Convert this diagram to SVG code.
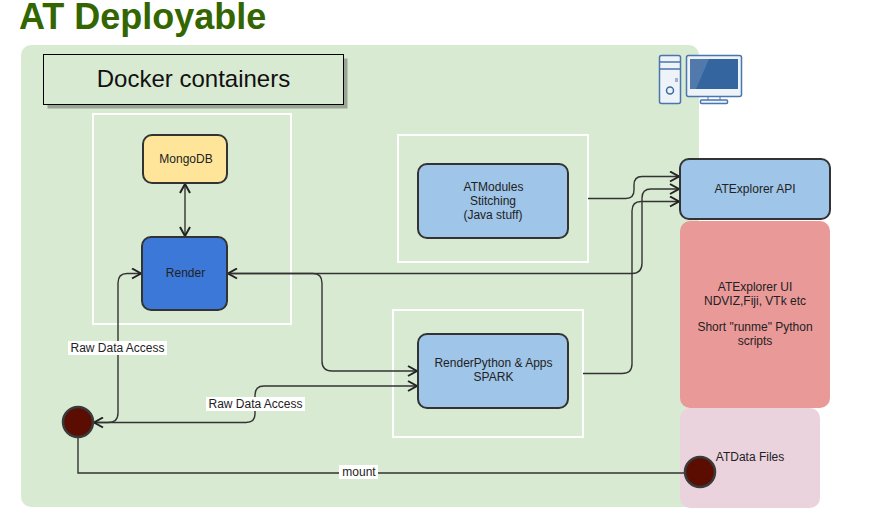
<svg xmlns="http://www.w3.org/2000/svg" width="876" height="527" viewBox="0 0 876 527">
<style>
text{font-family:"Liberation Sans",Arial,sans-serif;fill:#222;text-anchor:middle}
.t{font-size:12px}
.frame{fill:none;stroke:#fff;stroke-width:2}
.node{stroke:#333;stroke-width:2}
.dot{fill:#5a0d00;stroke:#3a3a3a;stroke-width:2.5}
.c{fill:none;stroke:#333;stroke-width:1.4}
.ah{fill:none;stroke:#222;stroke-width:2}
.lb{fill:#fff}
</style>
<defs>
<marker id="a" viewBox="0 0 12 12" refX="10" refY="6" markerWidth="12" markerHeight="12" markerUnits="userSpaceOnUse" orient="auto-start-reverse"><path d="M1 1L10 6L1 11" fill="none" stroke="#222" stroke-width="2"/></marker>
</defs>
<rect width="876" height="527" fill="#fff"/>
<text x="19" y="29" style="font-size:36px;font-weight:bold;fill:#336600;text-anchor:start">AT Deployable</text>
<rect id="panel" x="21" y="45" width="678" height="462" rx="10" fill="#d9ead3"/>
<rect id="data-panel" x="680" y="408" width="140" height="100" rx="10" fill="#ead3dd"/>
<rect id="ui-panel" x="680" y="221" width="150" height="187" rx="10" fill="#ea9999"/>
<g id="docker-label">
<rect x="47.500" y="58.500" width="300" height="50" fill="#9aa596"/>
<rect x="43.500" y="54.500" width="300" height="50" fill="#d9ead3" stroke="#000"/>
<text x="193.500" y="87" style="font-size:24px;fill:#111">Docker containers</text>
</g>
<g id="frames">
<rect class="frame" x="93" y="114" width="198" height="210"/>
<rect class="frame" x="398" y="135" width="190" height="127"/>
<rect class="frame" x="393" y="310" width="190" height="127"/>
</g>
<g id="computer">
<rect x="659.500" y="55.500" width="21" height="48" rx="2" fill="#eef2f9" stroke="#4a76ad" stroke-width="1.500"/>
<path d="M660 62H680M660 69H680" stroke="#4a76ad" stroke-width="1.500" fill="none"/>
<rect x="675" y="78" width="3" height="4" fill="#9db3d0"/>
<circle cx="670" cy="90.500" r="3.500" fill="none" stroke="#3a6ba5" stroke-width="1.500"/>
<rect x="686.500" y="55.500" width="55" height="41" rx="2" fill="#eef2f9" stroke="#4a76ad" stroke-width="1.500"/>
<rect x="690" y="59" width="48" height="30" fill="#35659f"/>
<path d="M690 59H709L696 89H690Z" fill="#5179ab"/>
<path d="M708 97V100M720 97V100" stroke="#4a76ad" stroke-width="1"/>
<rect x="700.500" y="100" width="27" height="3.500" rx="1" fill="#eef2f9" stroke="#4a76ad" stroke-width="1.500"/>
</g>
<g id="connectors">
<path class="c" marker-start="url(#a)" marker-end="url(#a)" d="M185 184V236"/>
<path class="c" marker-start="url(#a)" d="M228 273.500H632Q642 273.500 642 263V198Q642 189 651 189H679" marker-end="url(#a)"/>
<path class="c" marker-end="url(#a)" d="M588 198.500H626Q634 198.500 634 190V185Q634 176.500 642 176.500H679"/>
<path class="c" marker-end="url(#a)" d="M583 373.500H622Q632 373.500 632 364V211Q632 201.500 641 201.500H679"/>
<path class="c" marker-end="url(#a)" d="M228 273.500H313Q322 273.500 322 283V361Q322 371 332 371H417"/>
<path class="c" marker-end="url(#a)" d="M94 422.500H246Q255 422.500 255 414V395Q255 386 264 386H417"/>
<path class="c" marker-start="url(#a)" marker-end="url(#a)" d="M141 273.500H127Q118 273.500 118 283V413Q118 422.500 108 422.500H94"/>
<path class="c" stroke-width="1.800" d="M78 437V473H685"/>
</g>
<g id="labels">
<rect class="lb" x="68" y="341" width="99" height="14"/><text class="t" x="117.500" y="352">Raw Data Access</text>
<rect class="lb" x="206" y="397" width="99" height="14"/><text class="t" x="255.500" y="408">Raw Data Access</text>
<rect class="lb" x="339" y="465" width="39" height="14"/><text class="t" x="359" y="476">mount</text>
</g>
<g id="mongodb"><rect class="node" x="143" y="135" width="84" height="48" rx="9" fill="#ffe599"/><text class="t" x="186" y="163">MongoDB</text></g>
<g id="render"><rect class="node" x="142" y="237" width="85" height="73" rx="9" fill="#3c78d8"/><text class="t" x="185.500" y="277">Render</text></g>
<g id="atmodules"><rect class="node" x="418" y="164" width="150" height="74" rx="9" fill="#9fc5e8"/><text class="t" x="493.500" y="191">ATModules</text><text class="t" x="493" y="205">Stitching</text><text class="t" x="493" y="219">(Java stuff)</text></g>
<g id="renderpython"><rect class="node" x="418" y="334" width="150" height="74" rx="9" fill="#9fc5e8"/><text class="t" x="493.500" y="367">RenderPython &amp; Apps</text><text class="t" x="493.500" y="381">SPARK</text></g>
<g id="api"><rect class="node" x="680" y="159" width="150" height="60" rx="9" fill="#9fc5e8"/><text class="t" x="755" y="193">ATExplorer API</text></g>
<g id="ui"><text class="t" x="755" y="291">ATExplorer UI</text><text class="t" x="755" y="305">NDVIZ,Fiji, VTk etc</text><text class="t" x="755" y="331">Short "runme" Python</text><text class="t" x="755" y="345">scripts</text></g>
<g id="data-files"><text class="t" x="750" y="461">ATData Files</text></g>
<g id="mount-left"><circle class="dot" cx="78" cy="422" r="15"/></g>
<g id="mount-right"><circle class="dot" cx="700" cy="472" r="15"/></g>
</svg>
